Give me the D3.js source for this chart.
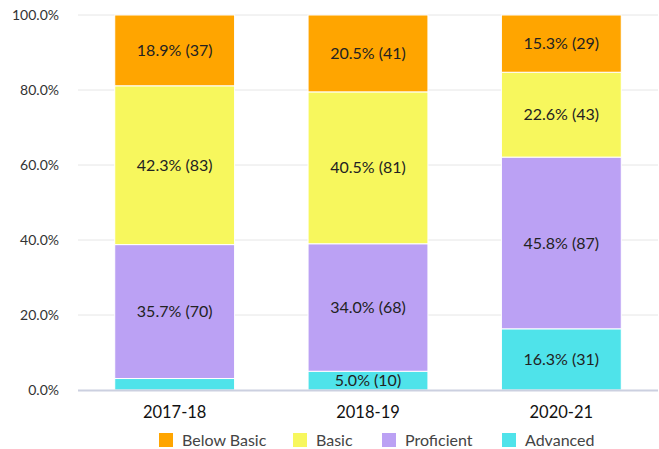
<!DOCTYPE html>
<html>
<head>
<meta charset="utf-8">
<script src="https://cdn.jsdelivr.net/npm/d3@7"></script>
<style>
  body { margin: 0; background: #fff; font-family: Lato, "Open Sans", sans-serif; }
</style>
</head>
<body>
<div id="chart"></div>
<script>
// data
const years = ["2017-18", "2018-19", "2020-21"];
const levels = ["Advanced", "Proficient", "Basic", "Below Basic"];
const advanced = [6, 10, 31];
const proficient = [70, 68, 87];
const basic = [83, 81, 43];
const belowBasic = [37, 41, 29];
const yTicks = [0, 0.2, 0.4, 0.6, 0.8, 1.0];
const legendOrder = ["Below Basic", "Basic", "Proficient", "Advanced"];

const colors = {
  "Below Basic": "#ffa500",
  "Basic": "#f7f75d",
  "Proficient": "#bba1f4",
  "Advanced": "#4fe3ea"
};

const width = 659, height = 449;
const margin = {top: 15, right: 1, bottom: 59, left: 78};

const rows = years.map((y, i) => {
  const r = {year: y, "Advanced": advanced[i], "Proficient": proficient[i], "Basic": basic[i], "Below Basic": belowBasic[i]};
  r.total = advanced[i] + proficient[i] + basic[i] + belowBasic[i];
  return r;
});

const stack = d3.stack()
  .keys(levels)
  .value((d, k) => d[k] / d.total);
const series = stack(rows);

const svg = d3.select("#chart").append("svg")
  .attr("width", width)
  .attr("height", height);

const x = d3.scaleBand()
  .domain(years)
  .range([margin.left, width - margin.right])
  .paddingInner(0.38)
  .paddingOuter(0.19);

const y = d3.scaleLinear()
  .domain([0, 1])
  .range([height - margin.bottom, margin.top]);

// gridlines
svg.append("g")
  .selectAll("line")
  .data(yTicks.slice(1))
  .join("line")
    .attr("x1", margin.left)
    .attr("x2", width - margin.right)
    .attr("y1", d => y(d))
    .attr("y2", d => y(d))
    .attr("stroke", "#e6e6e6")
    .attr("stroke-width", 1);

// y tick labels
svg.append("g")
  .selectAll("text")
  .data(yTicks)
  .join("text")
    .attr("x", 59)
    .attr("y", d => y(d))
    .attr("dy", "0.35em")
    .attr("text-anchor", "end")
    .attr("font-size", 14)
    .attr("fill", "#333")
    .text(d => d3.format(".1%")(d));

// bars
const layer = svg.append("g")
  .selectAll("g")
  .data(series)
  .join("g")
    .attr("fill", d => colors[d.key]);

layer.selectAll("rect")
  .data(d => d.map(p => Object.assign(p, {key: d.key})))
  .join("rect")
    .attr("x", d => x(d.data.year))
    .attr("width", x.bandwidth())
    .attr("y", d => y(d[1]))
    .attr("height", d => y(d[0]) - y(d[1]))
    .attr("stroke", "#fff")
    .attr("stroke-width", 1);

layer.selectAll("text")
  .data(d => d.filter(p => y(p[0]) - y(p[1]) > 15))
  .join("text")
    .attr("x", d => x(d.data.year) + x.bandwidth() / 2)
    .attr("y", d => (y(d[0]) + y(d[1])) / 2)
    .attr("dy", "0.35em")
    .attr("text-anchor", "middle")
    .attr("font-size", 16)
    .attr("fill", "#222")
    .text(d => {
      const v = d.data[d.key];
      return d3.format(".1%")(v / d.data.total) + " (" + v + ")";
    });

// baseline
svg.append("line")
  .attr("x1", margin.left)
  .attr("x2", width - margin.right)
  .attr("y1", y(0) + 0.5)
  .attr("y2", y(0) + 0.5)
  .attr("stroke", "#ccd0e0")
  .attr("stroke-width", 2);

// x labels
svg.append("g")
  .selectAll("text")
  .data(years)
  .join("text")
    .attr("x", d => x(d) + x.bandwidth() / 2)
    .attr("y", 412)
    .attr("dy", "0.35em")
    .attr("text-anchor", "middle")
    .attr("font-size", 16.5)
    .attr("fill", "#111")
    .text(d => d);

// legend
const legendX = [159, 293, 382, 502];
const legend = svg.append("g")
  .selectAll("g")
  .data(legendOrder)
  .join("g")
    .attr("transform", (d, i) => `translate(${legendX[i]},433)`);

legend.append("rect")
  .attr("width", 14)
  .attr("height", 14)
  .attr("fill", d => colors[d]);

legend.append("text")
  .attr("x", 23)
  .attr("y", 7)
  .attr("dy", "0.35em")
  .attr("font-size", 16)
  .attr("fill", "#444")
  .text(d => d);
</script>
</body>
</html>
